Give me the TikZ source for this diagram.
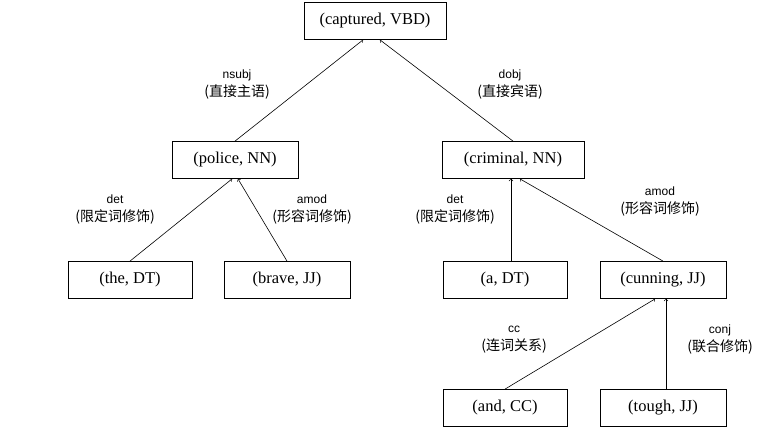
\documentclass[tikz,border=0pt]{standalone}
\usepackage{fontspec}
\setmainfont{Liberation Serif}
\newfontfamily\lblfont{Liberation Sans}
\newfontfamily\cjk{Noto Sans CJK SC}
\usetikzlibrary{positioning}
\tikzset{
  word/.style={draw, thick, minimum width=124pt, minimum height=37pt, font=\fontsize{16.5}{18}\selectfont},
  rel/.style={align=center, font=\lblfont\fontsize{12}{18}\selectfont},
  dep/.style={->, semithick}
}
\begin{document}
\begin{tikzpicture}[x=1pt,y=-1pt]
    \useasboundingbox (0,0) rectangle (769,437);
    % word nodes
    \node[word, minimum width=142pt] (captured) at (375,21) {(captured, VBD)};
    \node[word, minimum width=126pt] (police) at (235,160) {(police, NN)};
    \node[word, minimum width=142pt] (criminal) at (513,160) {(criminal, NN)};
    \node[word] (the) at (130,280) {(the, DT)};
    \node[word, minimum width=126pt] (brave) at (287,280) {(brave, JJ)};
    \node[word] (a) at (505,280) {(a, DT)};
    \node[word, minimum width=126pt] (cunning) at (663,280) {(cunning, JJ)};
    \node[word] (and) at (505,408) {(and, CC)};
    \node[word, minimum width=126pt] (tough) at (663,408) {(tough, JJ)};

    % dependencies
    \draw[dep] (police.north) -- ([xshift=-12pt]captured.south);
    \draw[dep] (criminal.north) -- ([xshift=5pt]captured.south);
    \draw[dep] (the.north) -- ([xshift=-3pt]police.south);
    \draw[dep] (brave.north) -- ([xshift=3pt]police.south);
    \draw[dep] ([xshift=6pt]a.north) -- ([xshift=-2pt]criminal.south);
    \draw[dep] (cunning.north) -- ([xshift=7pt]criminal.south);
    \draw[dep] (and.north) -- ([xshift=-8pt]cunning.south);
    \draw[dep] ([xshift=3pt]tough.north) -- ([xshift=3pt]cunning.south);

    % labels
    \node[rel] (l1) at (237,85) {nsubj\\{\cjk\fontsize{14}{18}\selectfont (直接主语)}};
    \node[rel] (l2) at (510,85) {dobj\\{\cjk\fontsize{14}{18}\selectfont (直接宾语)}};
    \node[rel] (l3) at (115,210) {det\\{\cjk\fontsize{14}{18}\selectfont (限定词修饰)}};
    \node[rel] (l4) at (312,210) {amod\\{\cjk\fontsize{14}{18}\selectfont (形容词修饰)}};
    \node[rel] (l5) at (455,210) {det\\{\cjk\fontsize{14}{18}\selectfont (限定词修饰)}};
    \node[rel] (l6) at (660,202) {amod\\{\cjk\fontsize{14}{18}\selectfont (形容词修饰)}};
    \node[rel] (l7) at (514,340) {cc\\{\cjk\fontsize{14}{18}\selectfont (连词关系)}};
    \node[rel] (l8) at (720,340) {conj\\{\cjk\fontsize{14}{18}\selectfont (联合修饰)}};
\end{tikzpicture}
\end{document}
